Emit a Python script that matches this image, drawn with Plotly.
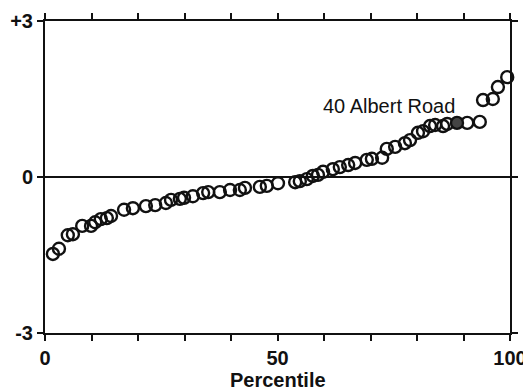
import plotly.graph_objects as go

percentile = [1.7, 3.0, 4.9, 6.0, 8.0, 9.9, 10.8, 12.0, 13.3, 14.2, 17.0, 18.9, 21.7, 23.7,
              26.0, 27.1, 29.0, 29.9, 31.8, 34.0, 35.1, 37.6, 39.8, 41.9, 43.0, 46.2, 47.7,
              50.1, 53.8, 54.8, 56.3, 57.6, 58.7, 59.8, 61.9, 63.4, 65.2, 66.7, 69.2, 70.3,
              72.5, 73.5, 75.3, 77.4, 78.5, 80.2, 81.3, 82.8, 83.9, 85.6, 86.5, 90.8, 93.5,
              94.2, 96.3, 97.4, 99.4]
score = [-1.48, -1.38, -1.12, -1.10, -0.94, -0.94, -0.87, -0.81, -0.79, -0.75, -0.63, -0.60,
         -0.56, -0.54, -0.50, -0.44, -0.42, -0.40, -0.37, -0.31, -0.29, -0.29, -0.25, -0.25,
         -0.21, -0.19, -0.17, -0.12, -0.10, -0.08, -0.04, 0.02, 0.04, 0.10, 0.15, 0.19, 0.23,
         0.27, 0.33, 0.35, 0.37, 0.54, 0.58, 0.65, 0.71, 0.85, 0.88, 0.98, 1.00, 0.98, 1.02,
         1.04, 1.06, 1.48, 1.50, 1.73, 1.92]

highlight_x = [88.6]
highlight_y = [1.04]
highlight_label = "40 Albert Road"

y_ticks = [-3, 0, 3]
y_ticktext = ["-3", "0", "+3"]
x_ticks = [0, 50, 100]
x_title = "Percentile"

FONT = "Liberation Sans, Arial, sans-serif"

fig = go.Figure()
fig.add_trace(go.Scatter(
    x=percentile, y=score, mode="markers",
    marker=dict(symbol="circle-open", size=12, color="#111", line=dict(width=2.4, color="#111")),
    showlegend=False, hoverinfo="skip", cliponaxis=False))
fig.add_trace(go.Scatter(
    x=highlight_x, y=highlight_y, mode="markers",
    marker=dict(symbol="circle", size=12, color="#444", line=dict(width=2.4, color="#111")),
    showlegend=False, hoverinfo="skip", cliponaxis=False))

fig.add_annotation(x=highlight_x[0], y=1.36, text=highlight_label, showarrow=False,
                   xanchor="right", yanchor="middle",
                   font=dict(family=FONT, size=20, color="#111"))

fig.add_annotation(x=0.5, y=-0.15, xref="paper", yref="paper", text="<b>" + x_title + "</b>",
                   showarrow=False, xanchor="center", yanchor="middle",
                   font=dict(family=FONT, size=20, color="#111"))

# page body has an 8px default margin, so the figure is sized to fit inside the window
fig.update_layout(
    width=523, height=383,
    margin=dict(l=37, r=21, t=13, b=58),
    paper_bgcolor="white", plot_bgcolor="white",
    font=dict(family=FONT, color="#111"),
)
fig.update_xaxes(
    range=[0, 100], tickvals=x_ticks, ticks="outside", ticklen=6, tickwidth=2, tickcolor="#111",
    minor=dict(dtick=10, tick0=0, ticks="outside", ticklen=6, tickwidth=2, tickcolor="#111", showgrid=False),
    showline=True, linewidth=2, linecolor="#111", mirror="ticks",
    showgrid=False, zeroline=False, automargin=False,
    tickfont=dict(family=FONT, size=20, color="#111", weight="bold"),
)
fig.update_yaxes(
    range=[-3, 3], tickvals=y_ticks, ticktext=y_ticktext, ticks="outside", ticklen=6, tickwidth=2,
    tickcolor="#111", showline=True, linewidth=2, linecolor="#111", mirror="ticks",
    showgrid=False, zeroline=True, zerolinecolor="#111", zerolinewidth=1.5, automargin=False,
    tickfont=dict(family=FONT, size=20, color="#111", weight="bold"),
)

fig.write_html("out.html")
